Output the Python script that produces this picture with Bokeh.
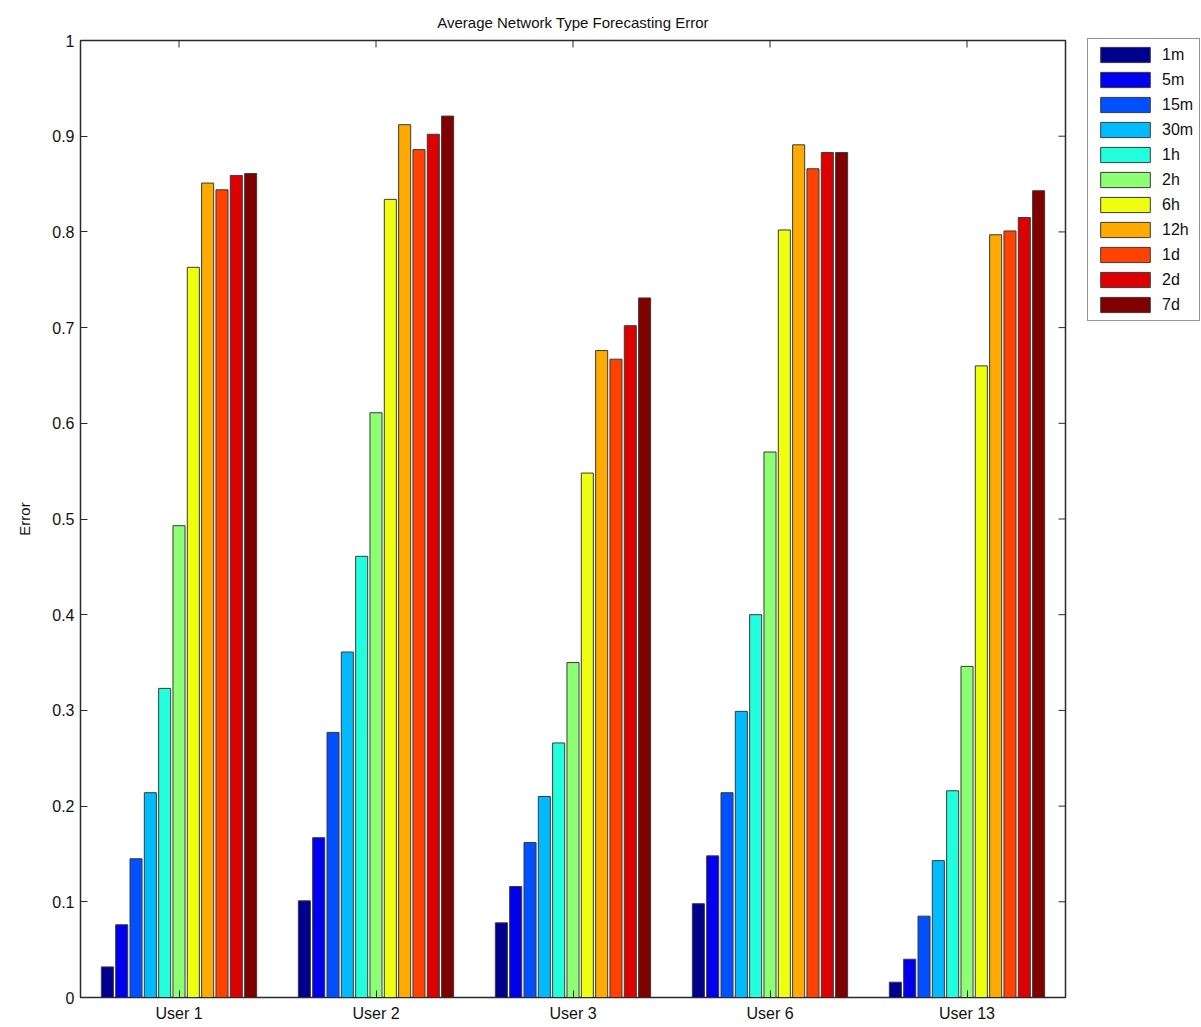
import math
from bokeh.plotting import figure
from bokeh.models import (ColumnDataSource, Legend, LegendItem,
                          FixedTicker, CustomJSTickFormatter, Range1d)
from bokeh.transform import dodge
from bokeh.embed import file_html
from bokeh.resources import INLINE

# ---------------- data ----------------
users = ["User 1", "User 2", "User 3", "User 6", "User 13"]
user_pos = [1, 2, 3, 4, 5]
horizons = ["1m", "5m", "15m", "30m", "1h", "2h", "6h", "12h", "1d", "2d", "7d"]

err_1m = [0.032, 0.101, 0.078, 0.098, 0.016]
err_5m = [0.076, 0.167, 0.116, 0.148, 0.040]
err_15m = [0.145, 0.277, 0.162, 0.214, 0.085]
err_30m = [0.214, 0.361, 0.210, 0.299, 0.143]
err_1h = [0.323, 0.461, 0.266, 0.400, 0.216]
err_2h = [0.493, 0.611, 0.350, 0.570, 0.346]
err_6h = [0.763, 0.834, 0.548, 0.802, 0.660]
err_12h = [0.851, 0.912, 0.676, 0.891, 0.797]
err_1d = [0.844, 0.886, 0.667, 0.866, 0.801]
err_2d = [0.859, 0.902, 0.702, 0.883, 0.815]
err_7d = [0.861, 0.921, 0.731, 0.883, 0.843]

series = [err_1m, err_5m, err_15m, err_30m, err_1h, err_2h,
          err_6h, err_12h, err_1d, err_2d, err_7d]

colors = ["#00008F", "#0000EE", "#0050FF", "#00BCFF", "#22FFDD", "#8CFF72",
          "#EEFF10", "#FFAA00", "#FF4200", "#DD0000", "#800000"]

y_ticks = [0, 0.1, 0.2, 0.3, 0.4, 0.5, 0.6, 0.7, 0.8, 0.9, 1.0]

FONT = "Liberation Sans"
X_MIN, X_MAX = 0.5, 5.5
Y_MIN, Y_MAX = 0, 1
INK = "#111111"
EDGE = "#2a2a2a"

# ---------------- figure ----------------
p = figure(frame_width=985, frame_height=957,
           x_range=Range1d(X_MIN, X_MAX), y_range=Range1d(Y_MIN, Y_MAX),
           output_backend="svg", toolbar_location=None,
           min_border_left=80, min_border_top=40, min_border_bottom=30,
           min_border_right=134,
           title="Average Network Type Forecasting Error")

p.title.align = "center"
p.title.text_font = FONT
p.title.text_font_size = "15px"
p.title.text_font_style = "normal"
p.title.text_color = INK
p.title.standoff = 20

p.xgrid.visible = False
p.ygrid.visible = False
p.outline_line_color = EDGE
p.outline_line_width = 1.5

data = {"pos": user_pos}
for h, s in zip(horizons, series):
    data[h] = s
src = ColumnDataSource(data)

n = len(horizons)
step = 0.8 / n
bar_w = step * 0.84

items = []
for i, (h, c) in enumerate(zip(horizons, colors)):
    off = (i - (n - 1) / 2) * step
    r = p.vbar(x=dodge("pos", off, range=p.x_range), top=h, width=bar_w,
               bottom=0, source=src, fill_color=c, line_color="#3a3a3a",
               line_width=1)
    items.append(LegendItem(label=h, renderers=[r]))

# inward ticks on right and top edges (MATLAB box style)
p.ray(x=[X_MAX] * len(y_ticks), y=y_ticks, length=7, length_units="screen",
      angle=math.pi, line_color=EDGE, line_width=1)
p.ray(x=user_pos, y=[Y_MAX] * len(user_pos), length=7, length_units="screen",
      angle=-math.pi / 2, line_color=EDGE, line_width=1)

# ---------------- axes ----------------
tick_fmt = CustomJSTickFormatter(code="return String(Math.round(tick*10)/10);")

for ax in p.yaxis:
    ax.ticker = FixedTicker(ticks=y_ticks)
    ax.formatter = tick_fmt
    ax.axis_label = "Error"
    ax.axis_label_text_font = FONT
    ax.axis_label_text_font_size = "15px"
    ax.axis_label_text_font_style = "normal"
    ax.axis_label_text_color = INK
    ax.axis_label_standoff = 16
    ax.major_label_text_font = FONT
    ax.major_label_text_font_size = "16px"
    ax.major_label_text_color = INK
    ax.major_tick_in = 7
    ax.major_tick_out = 0
    ax.minor_tick_line_color = None
    ax.axis_line_color = EDGE
    ax.major_tick_line_color = EDGE
    ax.major_label_standoff = 6

for ax in p.xaxis:
    ax.ticker = FixedTicker(ticks=user_pos)
    ax.major_label_overrides = {pos: u for pos, u in zip(user_pos, users)}
    ax.major_label_text_font = FONT
    ax.major_label_text_font_size = "16px"
    ax.major_label_text_color = INK
    ax.major_tick_in = 7
    ax.major_tick_out = 0
    ax.minor_tick_line_color = None
    ax.axis_line_color = EDGE
    ax.major_tick_line_color = EDGE
    ax.major_label_standoff = 7

# ---------------- legend ----------------
legend = Legend(items=items, location=(22, 957 - 281), margin=0,
                padding=6, spacing=6, glyph_width=62, glyph_height=19,
                label_height=19, label_standoff=6,
                label_text_font=FONT, label_text_font_size="16px",
                label_text_color=INK,
                border_line_color=EDGE, border_line_width=1.5,
                background_fill_alpha=1.0)
p.add_layout(legend, "right")

open("out.html", "w").write(file_html(p, INLINE))
